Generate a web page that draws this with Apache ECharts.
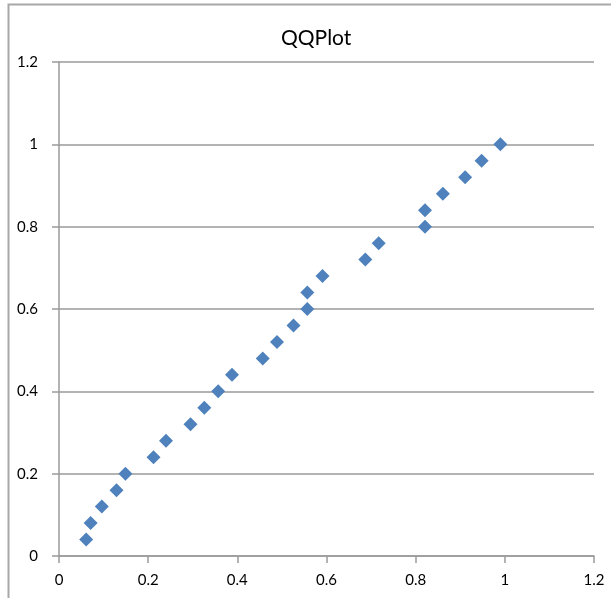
<!DOCTYPE html>
<html>
<head>
	<meta charset="UTF-8">
	<title>QQPlot</title>
	<script src="https://cdn.jsdelivr.net/npm/echarts@6/dist/echarts.min.js"></script>
	<style>
		html, body {
			width: 100%;
			height: 100%;
			margin: 0;
			padding: 0;
			background: #fff;
		}
		#chart {
			width: 611px;
			height: 598px;
		}
	</style>
</head>
<body>
	<div id="chart"></div>
	<script>
		// theoretical quantiles (x) and sample quantiles (y)
		var xValues = [0.061, 0.071, 0.096, 0.129, 0.149, 0.212, 0.240, 0.295, 0.326, 0.357,
			0.388, 0.457, 0.489, 0.526, 0.557, 0.557, 0.591, 0.687, 0.717, 0.821,
			0.821, 0.861, 0.911, 0.948, 0.990];
		var yValues = [0.04, 0.08, 0.12, 0.16, 0.2, 0.24, 0.28, 0.32, 0.36, 0.4,
			0.44, 0.48, 0.52, 0.56, 0.6, 0.64, 0.68, 0.72, 0.76, 0.8,
			0.84, 0.88, 0.92, 0.96, 1.0];
		var axisMin = 0;
		var axisMax = 1.2;
		var axisStep = 0.2;

		var points = [];
		for(var i = 0; i < xValues.length; i++) {
			points.push([xValues[i], yValues[i]]);
		}

		var gray = '#9a9a9a';
		var labelFont = {
			color: '#000',
			fontFamily: 'Lato',
			fontSize: 15
		};

		var chart = echarts.init(document.getElementById('chart'));
		chart.setOption({
			animation: false,
			backgroundColor: '#fff',
			title: {
				text: 'QQPlot',
				left: 276,
				top: 23,
				textStyle: {
					color: '#000',
					fontFamily: 'Lato',
					fontSize: 21,
					fontWeight: 'normal'
				}
			},
			graphic: [{
				type: 'rect',
				shape: { x: 8.5, y: 4.5, width: 700, height: 700 },
				style: { fill: 'none', stroke: '#a8a8a8', lineWidth: 2 },
				silent: true
			}],
			grid: {
				left: 59,
				right: 17,
				top: 62,
				bottom: 42
			},
			xAxis: {
				type: 'value',
				min: axisMin,
				max: axisMax,
				interval: axisStep,
				splitLine: { show: false },
				axisLine: { show: true, onZero: false, lineStyle: { color: gray, width: 1.5 } },
				axisTick: { show: true, length: 7, lineStyle: { color: gray, width: 1.5 } },
				axisLabel: Object.assign({ margin: 17 }, labelFont)
			},
			yAxis: {
				type: 'value',
				min: axisMin,
				max: axisMax,
				interval: axisStep,
				splitLine: { show: true, lineStyle: { color: gray, width: 1.5 } },
				axisLine: { show: true, onZero: false, lineStyle: { color: gray, width: 1.5 } },
				axisTick: { show: true, length: 7, lineStyle: { color: gray, width: 1.5 } },
				axisLabel: Object.assign({ margin: 21 }, labelFont)
			},
			series: [{
				type: 'scatter',
				symbol: 'diamond',
				symbolSize: 14,
				itemStyle: { color: '#4F81BD', opacity: 1 },
				data: points
			}]
		});
	</script>
</body>
</html>
